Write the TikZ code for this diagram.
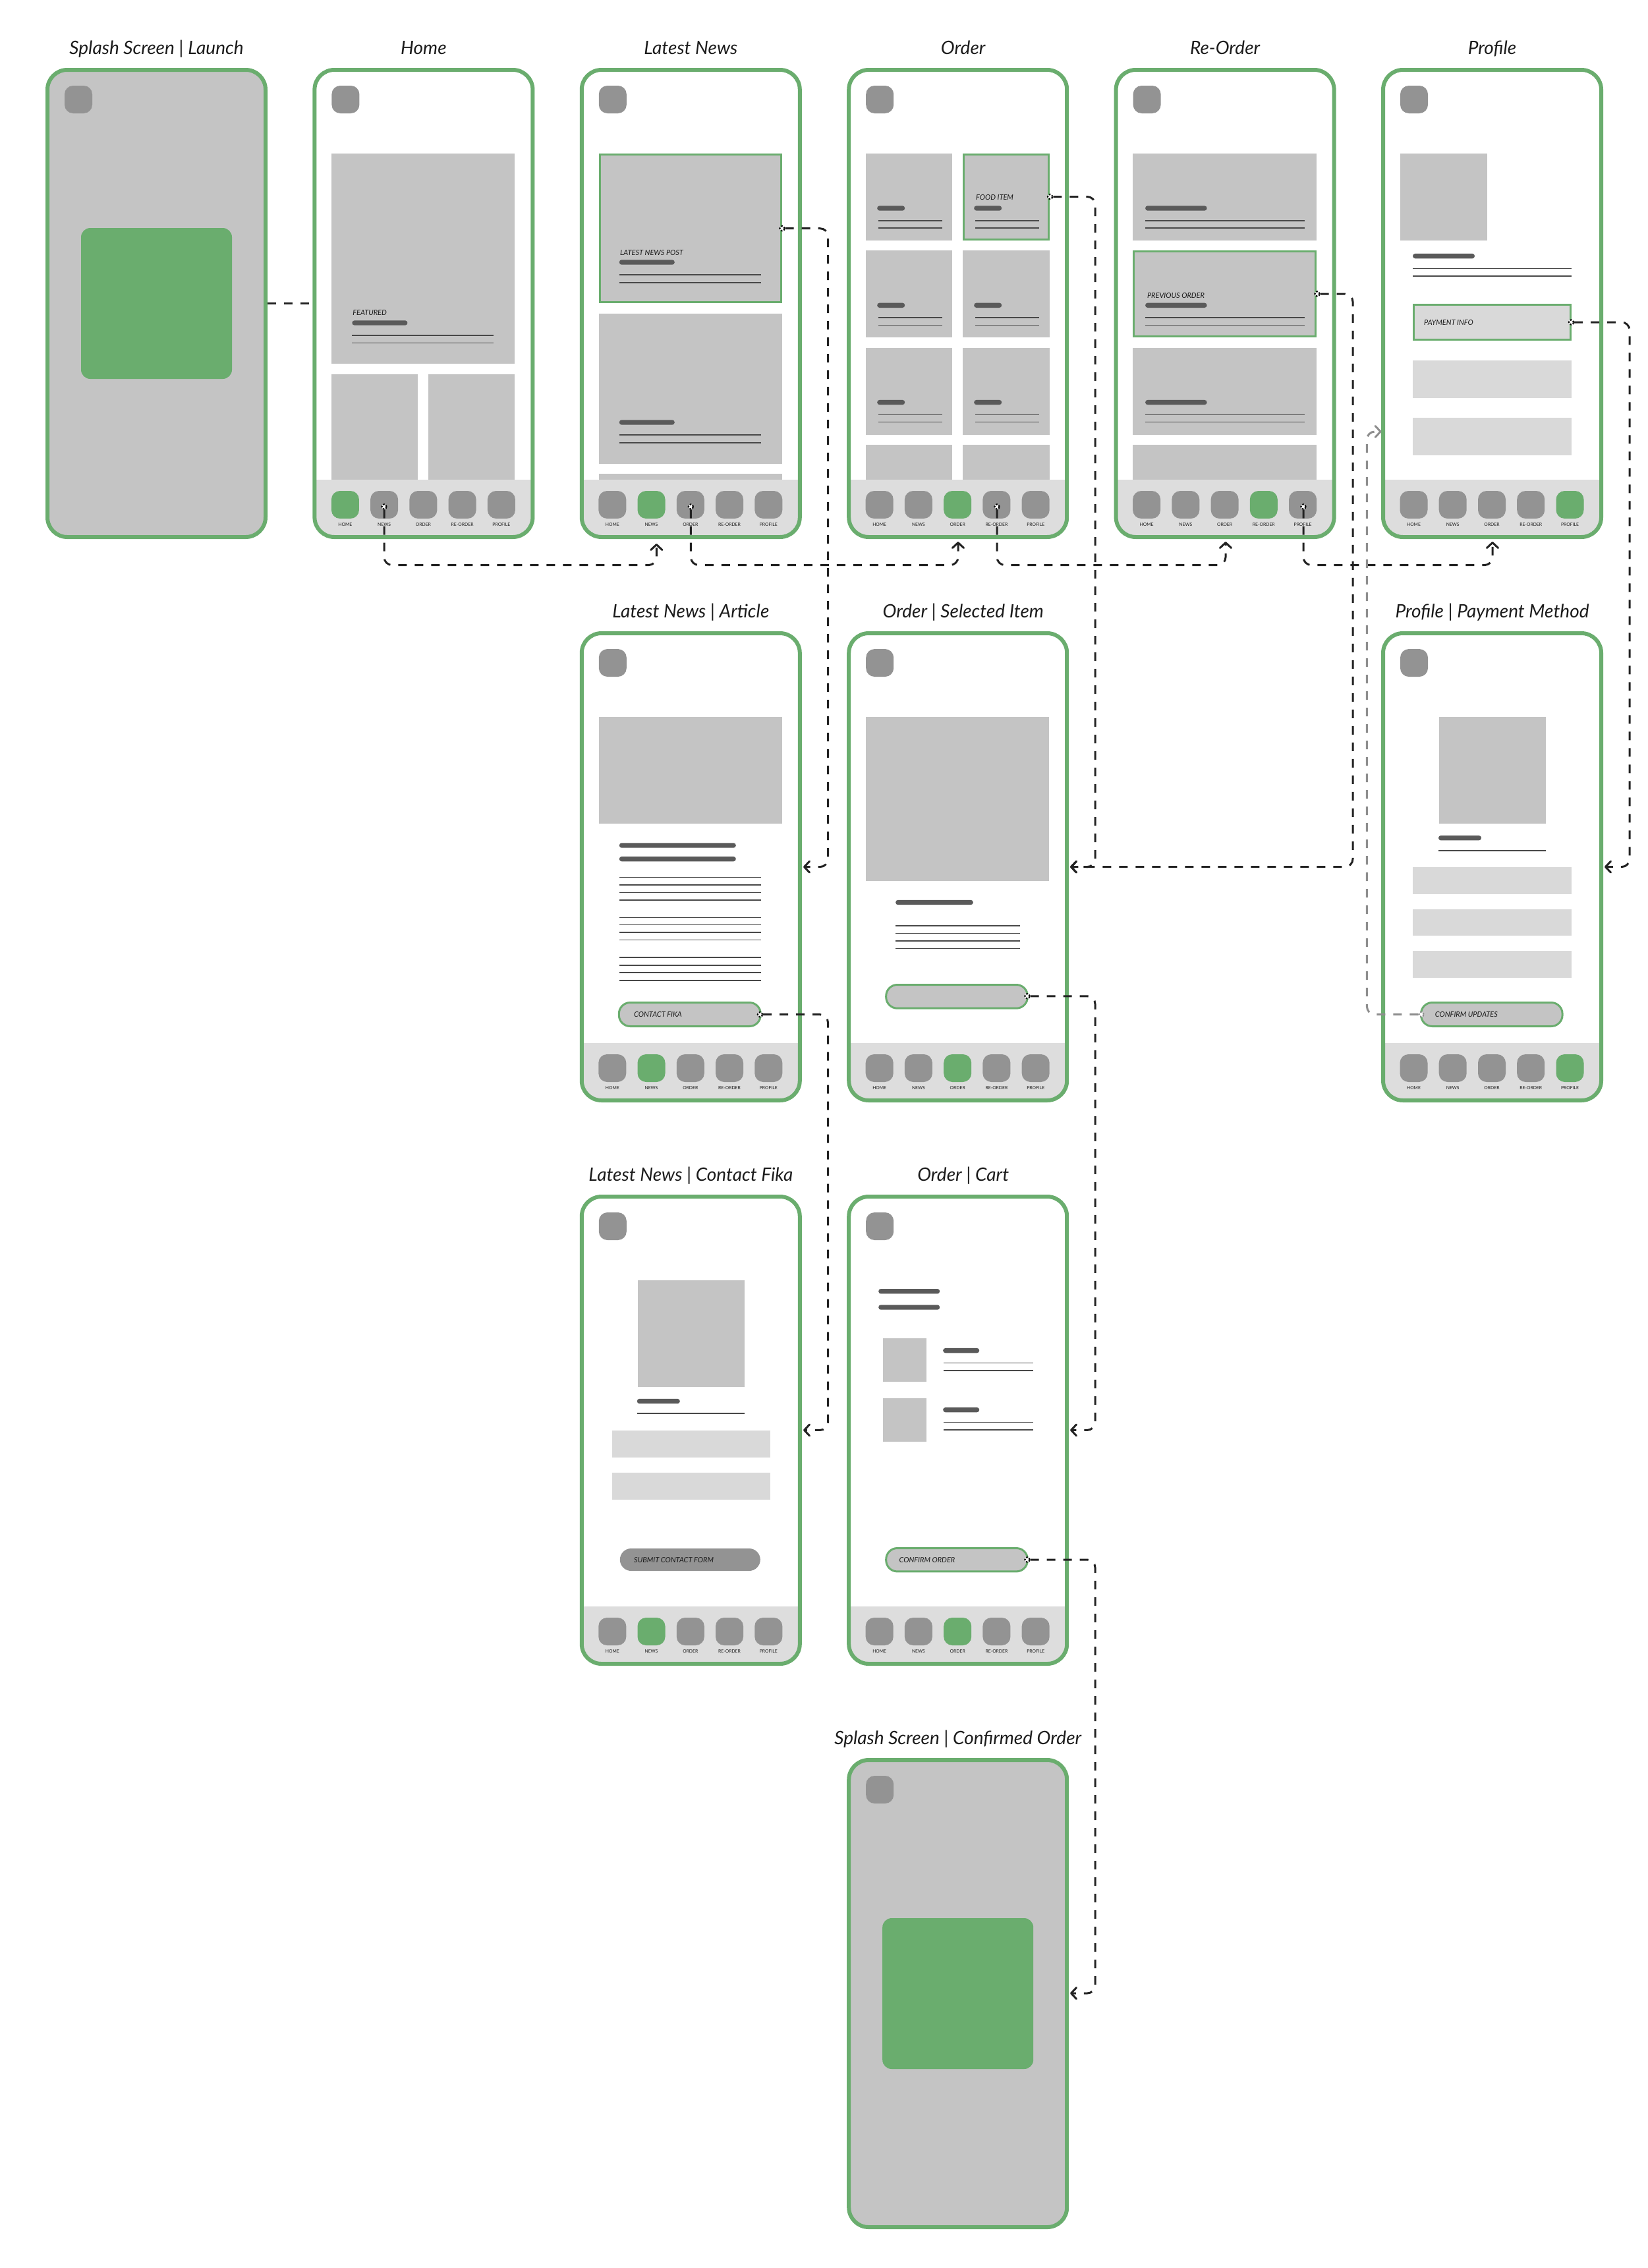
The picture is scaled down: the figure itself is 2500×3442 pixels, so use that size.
\documentclass[tikz,border=0pt]{standalone}
\usepackage{fontspec}
\setmainfont{Lato}
\usetikzlibrary{arrows.meta}
\definecolor{okgreen}{HTML}{6AAD6E}
\definecolor{imgc}{HTML}{C4C4C4}
\definecolor{iconc}{HTML}{939393}
\definecolor{navc}{HTML}{DDDDDD}
\definecolor{inputc}{HTML}{D9D9D9}
\definecolor{barc}{HTML}{5A5A5A}
\definecolor{linec}{HTML}{484848}
\definecolor{flowc}{HTML}{222222}
\definecolor{flowg}{HTML}{8E8E8E}
\definecolor{titlec}{HTML}{1C1C1C}
\tikzset{
  phoneframe/.style={draw=okgreen,line width=3pt,rounded corners=15pt,minimum width=165.5pt,minimum height=354.5pt,inner sep=0pt},
  screentitle/.style={font=\itshape\fontsize{14}{16}\selectfont,text=titlec,inner sep=0pt,anchor=base},
  navlabel/.style={font=\fontsize{3.4}{4}\selectfont,text=black!90,inner sep=0pt,anchor=center},
  uilabel/.style={font=\itshape\fontsize{5.5}{6.5}\selectfont,text=black!90,inner sep=0pt,anchor=west},
  flowline/.style={draw=flowc,line width=1.5pt,dash pattern=on 6.5pt off 6pt,rounded corners=6pt},
  flowarrow/.style={flowline,-{Straight Barb[length=4pt,width=8.5pt,line width=1.5pt,round]}},
  flowgray/.style={flowarrow,draw=flowg},
  clickmark/.style={circle,draw=black,fill=white,line width=1.1pt,dash pattern=on 1.2pt off 1.2pt,minimum size=3.6pt,inner sep=0pt},
  clickgray/.style={clickmark,draw=flowg},
}
\newcommand{\wimg}[4]{\fill[imgc] (#1,#2) rectangle (#3,#4);}
\newcommand{\winput}[4]{\fill[inputc] (#1,#2) rectangle (#3,#4);}
\newcommand{\wbar}[3]{\fill[barc,rounded corners=1.8pt] ({#1},{#3-3.7}) rectangle ({#2},{#3+3.7});}
\newcommand{\wline}[3]{\draw[linec,line width=0.8pt] ({#1},{#3}) -- ({#2},{#3});}
\newcommand{\wsel}[5]{\draw[okgreen,line width=1.5pt,fill=#5] ({#1+1.5},{#2+1.5}) rectangle ({#3-1.5},{#4-1.5});}
\newcommand{\wbtn}[4]{\draw[okgreen,line width=1.5pt,fill=imgc,rounded corners=8.5pt] ({#1+1.5},{#2+1.5}) rectangle ({#3-1.5},{#4-1.5});}
\newcommand{\wicon}[3]{\fill[#3,rounded corners=6.5pt] (#1,#2) rectangle ({#1+42},{#2+42});}
% name, x, y, active tab, title, body
\newcommand{\Phone}[6]{%
\begin{scope}[shift={(#2,#3)}]
  \node[screentitle] (#1title) at (168.5,-21) {#5};
  \wicon{29}{27}{iconc}
  #6
  \fill[navc] (3,625) -- (334,625) -- (334,682) .. controls (334,698.5) and (320.5,712) .. (304,712) -- (33,712) .. controls (16.5,712) and (3,698.5) .. (3,682) -- cycle;
  \foreach \i/\xx/\lab in {1/28.5/HOME,2/87.7/NEWS,3/147/ORDER,4/206.2/RE-ORDER,5/265.5/PROFILE}{
    \ifnum\i=#4\relax\def\iconcol{okgreen}\else\def\iconcol{iconc}\fi
    \wicon{\xx}{642}{\iconcol}
    \node[navlabel] (#1lab\i) at ({\xx+21},693) {\lab};
  }
  \node[phoneframe] (#1) at (168.5,357.5) {};
\end{scope}}
\newcommand{\Splash}[4]{%
\begin{scope}[shift={(#2,#3)}]
  \node[screentitle] (#1title) at (168.5,-21) {#4};
  \node[phoneframe,fill=imgc] (#1) at (168.5,357.5) {};
  \wicon{29}{27}{iconc}
  \fill[okgreen,rounded corners=7pt] (54,243) rectangle (283,472);
\end{scope}}
\begin{document}
\begin{tikzpicture}[x=0.5pt,y=-0.5pt]
\useasboundingbox (0,0) rectangle (2500,3442);

\Splash{splash}{69}{103}{Splash Screen | Launch}

\Phone{home}{474.4}{103}{1}{Home}{
  \wimg{28.5}{130}{307}{449}
  \wimg{28.5}{465}{159.5}{625}
  \wimg{176}{465}{307}{625}
  \node[uilabel] (hometxt) at (60.5,372) {FEATURED};
  \wbar{60}{144}{387}
  \wline{60}{274.6}{406}
  \wline{60}{274.6}{417.6}
}

\Phone{news}{879.8}{103}{2}{Latest News}{
  \wsel{29}{130}{307.5}{357}{imgc}
  \node[uilabel] (newstxt) at (61,281) {LATEST NEWS POST};
  \wbar{60}{144}{295}
  \wline{60}{275}{314}
  \wline{60}{275}{326}
  \wimg{29}{373}{307.5}{601}
  \wbar{60}{144}{538}
  \wline{60}{275}{557}
  \wline{60}{275}{569}
  \wimg{29}{616}{307.5}{625}
}

\Phone{order}{1285.2}{103}{3}{\hspace*{8pt}Order}{
  \foreach \yy in {130,277.3,424.6}{
    \wimg{28.5}{\yy}{160}{\yy+132}
    \wimg{176}{\yy}{307.5}{\yy+132}
  }
  \wimg{28.5}{572}{160}{625}
  \wimg{176}{572}{307.5}{625}
  \wsel{176}{130}{307.5}{262}{imgc}
  \foreach \yy in {130,277.3,424.6}{
    \wbar{46}{88}{\yy+83}
    \wline{47.5}{144.5}{\yy+101.7}
    \wline{47.5}{144.5}{\yy+113}
    \wbar{193}{235}{\yy+83}
    \wline{195}{292}{\yy+101.7}
    \wline{195}{292}{\yy+113}
  }
  \node[uilabel] (ordertxt) at (195.5,197) {FOOD ITEM};
}

\Phone{reorder}{1690.6}{103}{4}{Re-Order}{
  \wimg{28}{130}{307.6}{262}
  \wsel{28}{277}{307.6}{409}{imgc}
  \wimg{28}{424.6}{307.6}{556.6}
  \wimg{28}{572}{307.6}{625}
  \foreach \yy in {130,277.3,424.6}{
    \wbar{47.5}{141}{\yy+83}
    \wline{47}{289}{\yy+101.7}
    \wline{47}{289}{\yy+113}
  }
  \node[uilabel] (reordertxt) at (50,346) {PREVIOUS ORDER};
}

\Phone{profile}{2096}{103}{5}{Profile}{
  \wimg{29}{130}{160.6}{262}
  \wbar{48}{142}{285.6}
  \wline{48}{289}{304.6}
  \wline{48}{289}{316}
  \wsel{48}{358}{288.6}{414}{inputc}
  \node[uilabel] (profiletxt) at (64.7,386.7) {PAYMENT INFO};
  \winput{48}{444}{288.6}{501}
  \winput{48}{531}{288.6}{587.6}
}

\Phone{article}{879.8}{958}{2}{Latest News | Article}{
  \wimg{29}{130}{307.5}{292}
  \wbar{60}{237}{325}
  \wbar{60}{237}{345.6}
  \foreach \yy in {373.4,385,396.4,408,434.6,445.5,457,468.5,495,506.7,518,529.7}{\wline{60}{275}{\yy}}
  \wbtn{58}{562}{276}{601}
  \node[uilabel] (articletxt) at (82,582) {CONTACT FIKA};
}

\Phone{item}{1285.2}{958}{3}{\hspace*{8pt}Order | Selected Item}{
  \wimg{28.5}{130}{307}{379}
  \wbar{74}{191.6}{411.5}
  \foreach \yy in {447,458.6,470,481.6}{\wline{74}{262.6}{\yy}}
  \wbtn{58}{535}{275.7}{573.7}
}

\Phone{payment}{2096}{958}{5}{Profile | Payment Method}{
  \wimg{88}{130}{249.5}{292}
  \wbar{87}{152}{313.7}
  \wline{87}{250}{333}
  \winput{48}{358}{288.6}{399}
  \winput{48}{422}{288.6}{462}
  \winput{48}{485}{288.6}{526}
  \wbtn{59}{562}{276.6}{601}
  \node[uilabel] (paymenttxt) at (81.5,582) {CONFIRM UPDATES};
}

\Phone{contact}{879.8}{1813}{2}{Latest News | Contact Fika}{
  \wimg{88}{130}{250}{291.5}
  \wbar{87}{152}{313.5}
  \wline{87}{250}{332}
  \winput{49}{358}{288.7}{399}
  \winput{49}{422}{288.7}{462.6}
  \fill[iconc,rounded corners=8.5pt] (61,537) rectangle (274,571);
  \node[uilabel] (contacttxt) at (82,554.6) {SUBMIT CONTACT FORM};
}

\Phone{cart}{1285.2}{1813}{3}{\hspace*{8pt}Order | Cart}{
  \wbar{48}{141}{146.7}
  \wbar{48}{141}{171}
  \wimg{55}{218}{121}{284}
  \wbar{146}{201}{236.6}
  \wline{147}{282.6}{255.4}
  \wline{147}{282.6}{267}
  \wimg{55}{309}{121}{374.7}
  \wbar{146}{201}{326.6}
  \wline{147}{282.6}{345.4}
  \wline{147}{282.6}{357}
  \wbtn{58}{535}{275.7}{573.4}
  \node[uilabel] (carttxt) at (79,554.6) {CONFIRM ORDER};
}

\Splash{confirmed}{1285.2}{2668}{Splash Screen | Confirmed Order}

% click points
\node[clickmark] (mhome) at (583,769) {};
\node[clickmark] (mnews) at (1048.4,769) {};
\node[clickmark] (morder) at (1513,769) {};
\node[clickmark] (mreorder) at (1978,769) {};
\node[clickmark] (mpost) at (1187,346.7) {};
\node[clickmark] (mfood) at (1593.6,298.5) {};
\node[clickmark] (mprev) at (1999,446) {};
\node[clickmark] (mpay) at (2384.5,489) {};
\node[clickmark] (mfika) at (1153.5,1539.7) {};
\node[clickmark] (mitem) at (1559,1511.8) {};
\node[clickmark] (mcart) at (1559,2367) {};
\node[clickgray] (mconfirm) at (2157,1539.5) {};

% routing coordinates
\coordinate (bus) at (0,857.6);
\coordinate (chA) at (1256.5,0);
\coordinate (chB) at (1662,0);
\coordinate (chC) at (2053,0);
\coordinate (chD) at (2473,0);
\coordinate (chE) at (2074.4,0);
\coordinate (tnews) at (996.3,825);
\coordinate (torder) at (1454,822);
\coordinate (treorder) at (1860,822);
\coordinate (tprofile) at (2265,822);
\coordinate (tarticle) at (1219,1315.6);
\coordinate (titem) at (1624,1315.6);
\coordinate (tpayment) at (2435,1315.6);
\coordinate (tcontact) at (1219,2170.4);
\coordinate (tcart) at (1624,2170.4);
\coordinate (tconfirmed) at (1624,3025);
\coordinate (tprofileg) at (2096.6,655);

\draw[flowline] (splash) -- (home);
\draw[flowarrow] (mhome) -- (mhome |- bus) -- (tnews |- bus) -- (tnews);
\draw[flowarrow] (mnews) -- (mnews |- bus) -- (torder |- bus) -- (torder);
\draw[flowarrow] (morder) -- (morder |- bus) -- (treorder |- bus) -- (treorder);
\draw[flowarrow] (mreorder) -- (mreorder |- bus) -- (tprofile |- bus) -- (tprofile);
\draw[flowarrow] (mpost) -- (mpost -| chA) -- (chA |- tarticle) -- (tarticle);
\draw[flowarrow] (mfood) -- (mfood -| chB) -- (chB |- titem) -- (titem);
\draw[flowarrow] (mprev) -- (mprev -| chC) -- (chC |- titem) -- (titem);
\draw[flowarrow] (mpay) -- (mpay -| chD) -- (chD |- tpayment) -- (tpayment);
\draw[flowarrow] (mfika) -- (mfika -| chA) -- (chA |- tcontact) -- (tcontact);
\draw[flowarrow] (mitem) -- (mitem -| chB) -- (chB |- tcart) -- (tcart);
\draw[flowarrow] (mcart) -- (mcart -| chB) -- (chB |- tconfirmed) -- (tconfirmed);
\draw[flowgray] (mconfirm) -- (mconfirm -| chE) -- (chE |- tprofileg) -- (tprofileg);
\end{tikzpicture}
\end{document}
